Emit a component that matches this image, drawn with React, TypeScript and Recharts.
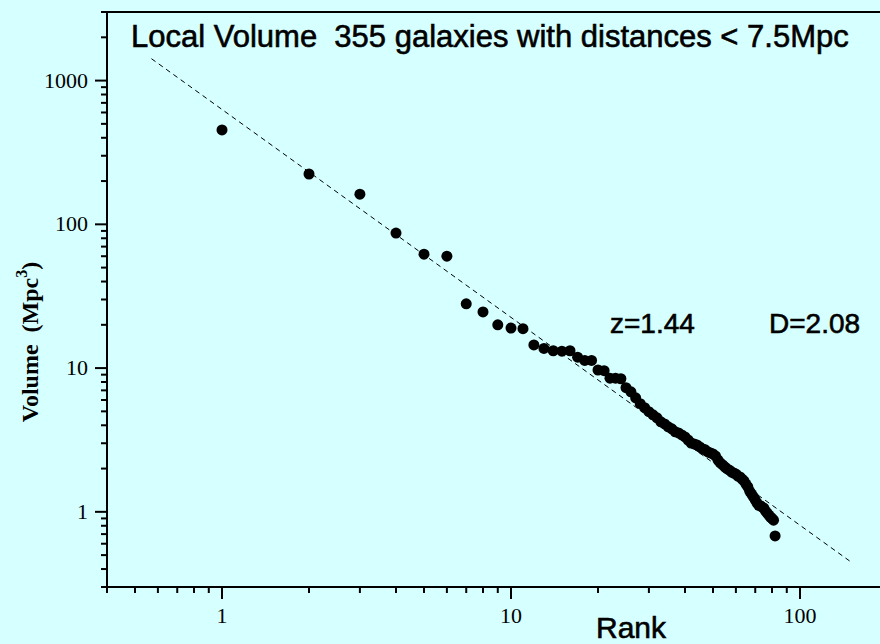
import { ScatterChart, Scatter, XAxis, YAxis, ReferenceLine } from 'recharts';

// rank of each galaxy group (1..82) and its volume in Mpc^3
const ranks = [
  1, 2, 3, 4, 5, 6, 7, 8, 9, 10, 11, 12, 13, 14, 15, 16, 17, 18, 19, 20,
  21, 22, 23, 24, 25, 26, 27, 28, 29, 30, 31, 32, 33, 34, 35, 36, 37, 38, 39, 40,
  41, 42, 43, 44, 45, 46, 47, 48, 49, 50, 51, 52, 53, 54, 55, 56, 57, 58, 59, 60,
  61, 62, 63, 64, 65, 66, 67, 68, 69, 70, 71, 72, 73, 74, 75, 76, 77, 78, 79, 80,
  81, 82,
];
const volumes = [
  454, 224, 162, 87, 62, 60, 28, 24.6, 20, 19, 18.8, 14.5, 13.7, 13.2, 13.1, 13.2, 11.9, 11.3, 11.3, 9.7,
  9.6, 8.5, 8.5, 8.43, 7.3, 6.84, 6.21, 5.65, 5.3, 4.97, 4.73, 4.51, 4.23, 4.09, 3.9, 3.78, 3.6, 3.54, 3.43, 3.32,
  3.16, 3.01, 2.97, 2.92, 2.83, 2.74, 2.7, 2.61, 2.57, 2.53, 2.45, 2.3, 2.19, 2.12, 2.05, 1.99, 1.95, 1.89, 1.86, 1.83,
  1.77, 1.75, 1.69, 1.64, 1.56, 1.49, 1.39, 1.33, 1.27, 1.21, 1.15, 1.11, 1.1, 1.08, 1.06, 1.01, 0.98, 0.95, 0.92, 0.9,
  0.875, 0.68,
];

// power-law fit, z = 1.44 (end points of the dashed line)
const fitRanks = [0.57, 152];
const fitVolumes = [1420, 0.44];

const xTicks = [0.4, 0.5, 0.6, 0.7, 0.8, 0.9, 1, 2, 3, 4, 5, 6, 7, 8, 9, 10, 20, 30, 40, 50, 60, 70, 80, 90, 100, 200];
const yTicks = [0.3, 0.4, 0.5, 0.6, 0.7, 0.8, 0.9, 1, 2, 3, 4, 5, 6, 7, 8, 9, 10, 20, 30, 40, 50, 60, 70, 80, 90,
  100, 200, 300, 400, 500, 600, 700, 800, 900, 1000, 2000, 3000];
const xLabels = [1, 10, 100];
const yLabels = [1, 10, 100, 1000];

const points = ranks.map((r, i) => ({ rank: r, volume: volumes[i] }));
const fitLine = fitRanks.map((r, i) => ({ rank: r, volume: fitVolumes[i] }));

const BG = '#D6FFFF';
const SERIF = '"Liberation Serif", "Times New Roman", serif';
const SANS = '"Liberation Sans", Arial, sans-serif';

const XTick = ({ x, y, payload }: any) => {
  const major = xLabels.includes(payload.value);
  return (
    <g>
      <line x1={x} y1={y} x2={x} y2={y + (major ? 12 : 6)} stroke="#000" strokeWidth={2} />
      {major && (
        <text x={x} y={y + 36} textAnchor="middle" fontFamily={SERIF} fontSize={22} fill="#000">
          {payload.value}
        </text>
      )}
    </g>
  );
};

const YTick = ({ x, y, payload }: any) => {
  const major = yLabels.includes(payload.value);
  return (
    <g>
      <line x1={x} y1={y} x2={x - (major ? 12 : 6)} y2={y} stroke="#000" strokeWidth={2} />
      {major && (
        <text x={x - 19} y={y + 7} textAnchor="end" fontFamily={SERIF} fontSize={22} fill="#000">
          {payload.value}
        </text>
      )}
    </g>
  );
};

const Dot = (p: any) => <circle cx={p.cx} cy={p.cy} r={5.5} fill="#000" />;
const NoDot = () => <g />;

// heavier look for the sans annotations
const sansText = { fontFamily: SANS, fill: '#000', stroke: '#000', strokeWidth: 0.6 };

export default function App() {
  return (
    <div style={{ position: 'fixed', left: 0, top: 0, width: 880, height: 644, overflow: 'hidden', background: BG }}>
      <ScatterChart width={887} height={644} margin={{ top: 12, right: 0, bottom: 0, left: 0 }}>
        <XAxis
          dataKey="rank"
          type="number"
          scale="log"
          domain={[0.4, 200]}
          ticks={xTicks}
          interval={0}
          allowDataOverflow
          height={57}
          tickSize={0}
          tickMargin={0}
          tick={<XTick />}
          axisLine={{ stroke: '#000', strokeWidth: 2 }}
        />
        <YAxis
          dataKey="volume"
          type="number"
          scale="log"
          domain={[0.3, 3000]}
          ticks={yTicks}
          interval={0}
          allowDataOverflow
          width={107}
          tickSize={0}
          tickMargin={0}
          tick={<YTick />}
          axisLine={{ stroke: '#000', strokeWidth: 2 }}
        />
        <ReferenceLine y={3000} stroke="#000" strokeWidth={2} />
        <Scatter
          data={fitLine}
          line={{ stroke: '#000', strokeWidth: 1, strokeDasharray: '5 4' }}
          shape={NoDot}
          isAnimationActive={false}
        />
        <Scatter data={points} shape={Dot} isAnimationActive={false} />
      </ScatterChart>

      <svg width={880} height={644} style={{ position: 'absolute', left: 0, top: 0, pointerEvents: 'none' }}>
        <text x={131} y={47} fontSize={31} {...sansText} style={{ whiteSpace: 'pre' }}>
          {'Local Volume  355 galaxies with distances < 7.5Mpc'}
        </text>
        <text x={610} y={333} fontSize={28} {...sansText}>z=1.44</text>
        <text x={769} y={333} fontSize={28} {...sansText}>D=2.08</text>
        <text x={631} y={638} textAnchor="middle" fontSize={30} {...sansText}>Rank</text>
        <text
          x={38}
          y={342}
          transform="rotate(-90 38 342)"
          textAnchor="middle"
          fontFamily={SERIF}
          fontWeight="bold"
          fontSize={24}
          fill="#000"
          style={{ whiteSpace: 'pre' }}
        >
          {'Volume  (Mpc'}
          <tspan dy={-11} fontSize={16}>3</tspan>
          <tspan dy={11}>)</tspan>
        </text>
      </svg>
    </div>
  );
}
